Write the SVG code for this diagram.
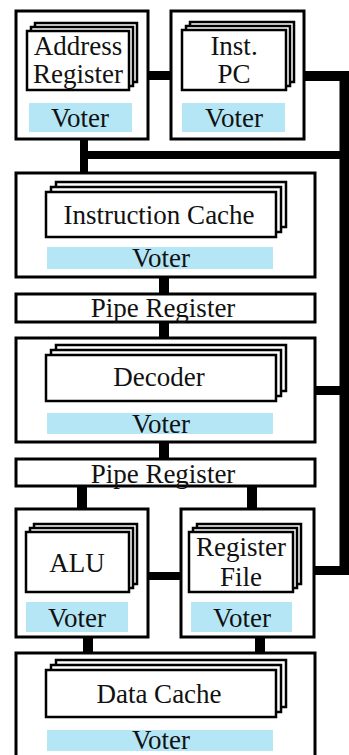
<svg xmlns="http://www.w3.org/2000/svg" width="349" height="755" viewBox="0 0 349 755">
<style>
.box{fill:#fff;stroke:#000;stroke-width:3}
.card{fill:#fff;stroke:#000;stroke-width:2.5}
.voter{fill:#b4e6f6}
.t{font-family:'Liberation Serif','Times New Roman',serif;font-size:27px;fill:#111;text-anchor:middle}
.c{stroke:#000;fill:none}
</style>
<rect width="349" height="755" fill="#fff"/>
<g id="connectors">
<path class="c" stroke-width="9" d="M146,75.5H174"/>
<path class="c" stroke-width="10" d="M302,76H344.5V575"/>
<path class="c" stroke-width="8" d="M84,138V175M84,155H348"/>
<path class="c" stroke-width="10" d="M164,275V296M164,320V340M164,440V461"/>
<path class="c" stroke-width="9" d="M313,390.5H348"/>
<path class="c" stroke-width="10" d="M82,484V511M252,484V511"/>
<path class="c" stroke-width="8" d="M146,576H183"/>
<path class="c" stroke-width="9" d="M312,570.5H348"/>
<path class="c" stroke-width="10" d="M88,635V655M260,635V655"/>
</g>
<g id="address-register">
<rect class="box" x="16" y="11" width="132" height="128"/>
<rect class="card" x="35" y="23" width="102" height="59"/>
<rect class="card" x="31" y="27" width="102" height="59"/>
<rect class="card" x="27" y="31" width="102" height="59"/>
<text class="t" x="78" y="55">Address</text>
<text class="t" x="78" y="83">Register</text>
<rect class="voter" x="29" y="103" width="103" height="29"/>
<text class="t" x="80" y="127">Voter</text>
</g>
<g id="inst-pc">
<rect class="box" x="171" y="11" width="133" height="128"/>
<rect class="card" x="190" y="22" width="104" height="60"/>
<rect class="card" x="186" y="26" width="104" height="60"/>
<rect class="card" x="182" y="30" width="104" height="60"/>
<text class="t" x="234" y="55">Inst.</text>
<text class="t" x="234" y="83">PC</text>
<rect class="voter" x="182" y="103" width="103" height="29"/>
<text class="t" x="234" y="127">Voter</text>
</g>
<g id="instruction-cache">
<rect class="box" x="16" y="173" width="299" height="104"/>
<rect class="card" x="56" y="182" width="230" height="45"/>
<rect class="card" x="51" y="187" width="230" height="45"/>
<rect class="card" x="46" y="192" width="230" height="45"/>
<text class="t" x="159" y="224">Instruction Cache</text>
<rect class="voter" x="47" y="247" width="226" height="22"/>
<text class="t" x="161" y="267">Voter</text>
</g>
<g id="pipe-register-1">
<rect class="box" x="16" y="294" width="299" height="28"/>
<text class="t" x="163" y="317">Pipe Register</text>
</g>
<g id="decoder">
<rect class="box" x="16" y="338" width="299" height="104"/>
<rect class="card" x="56" y="345" width="230" height="46"/>
<rect class="card" x="51" y="350" width="230" height="46"/>
<rect class="card" x="46" y="355" width="230" height="46"/>
<text class="t" x="159" y="386">Decoder</text>
<rect class="voter" x="47" y="413" width="226" height="21"/>
<text class="t" x="161" y="433">Voter</text>
</g>
<g id="pipe-register-2">
<rect class="box" x="16" y="459" width="299" height="27"/>
<text class="t" x="163" y="483">Pipe Register</text>
</g>
<g id="alu">
<rect class="box" x="16" y="509" width="132" height="128"/>
<rect class="card" x="34" y="524" width="103" height="60"/>
<rect class="card" x="30" y="528" width="103" height="60"/>
<rect class="card" x="26" y="532" width="103" height="60"/>
<text class="t" x="77" y="572">ALU</text>
<rect class="voter" x="26" y="602" width="102" height="30"/>
<text class="t" x="77" y="627">Voter</text>
</g>
<g id="register-file">
<rect class="box" x="181" y="509" width="133" height="128"/>
<rect class="card" x="197" y="524" width="104" height="60"/>
<rect class="card" x="193" y="528" width="104" height="60"/>
<rect class="card" x="189" y="532" width="104" height="60"/>
<text class="t" x="241" y="556">Register</text>
<text class="t" x="241" y="586">File</text>
<rect class="voter" x="191" y="602" width="101" height="30"/>
<text class="t" x="242" y="627">Voter</text>
</g>
<g id="data-cache">
<rect class="box" x="16" y="653" width="299" height="115"/>
<rect class="card" x="56" y="660" width="230" height="47"/>
<rect class="card" x="51" y="665" width="230" height="47"/>
<rect class="card" x="46" y="670" width="230" height="47"/>
<text class="t" x="159" y="703">Data Cache</text>
<rect class="voter" x="47" y="730" width="226" height="21"/>
<text class="t" x="161" y="749">Voter</text>
</g>
</svg>
